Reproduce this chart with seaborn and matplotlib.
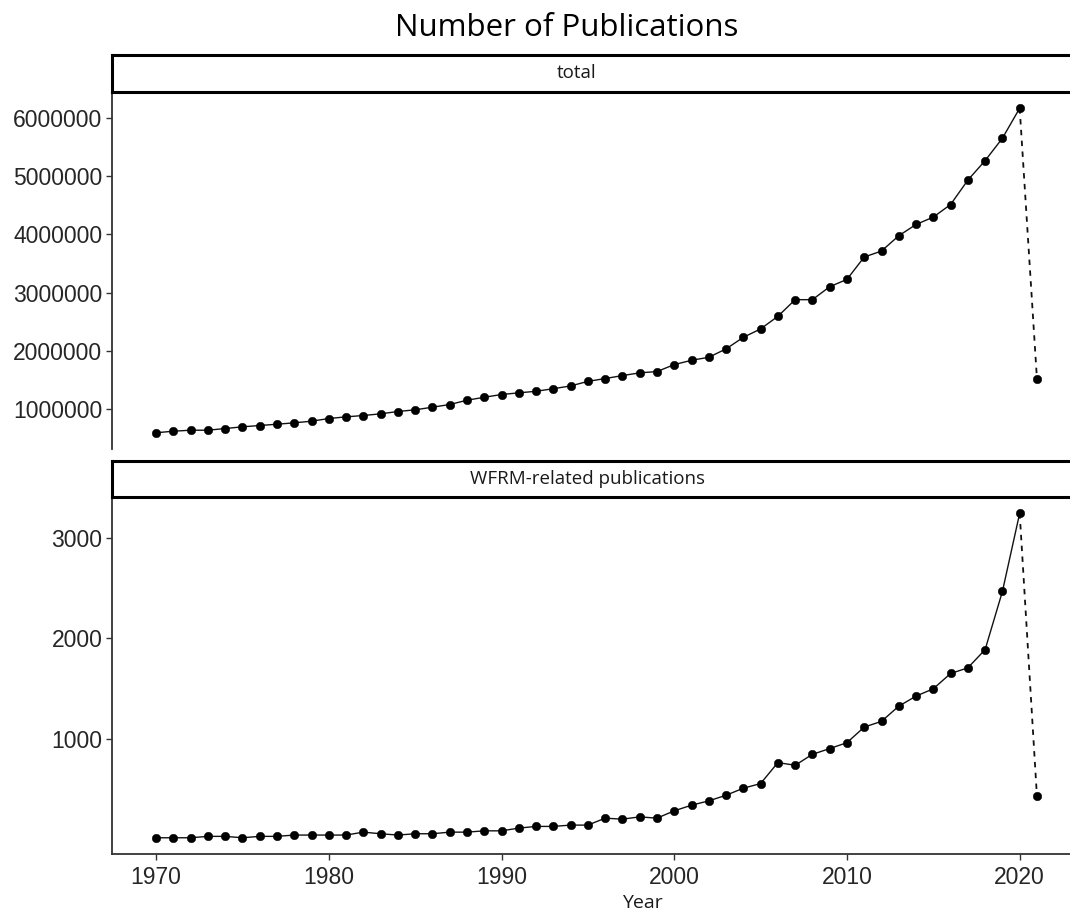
"""
Number of publications per year: total vs WFRM-related (two stacked facets).
"""
import numpy as np
import pandas as pd
import matplotlib
matplotlib.use("Agg")
import matplotlib.pyplot as plt
import matplotlib.ticker as mticker
import seaborn as sns

# --- data ---
years = list(range(1970, 2022))
total = [588000, 615000, 632000, 632000, 661000, 690000, 713000, 735000, 759000, 787000,
         833000, 862000, 885000, 914000, 954000, 983000, 1028000, 1074000, 1148000, 1199000,
         1246000, 1275000, 1302000, 1346000, 1394000, 1472000, 1521000, 1572000, 1619000, 1641000,
         1761000, 1835000, 1887000, 2031000, 2230000, 2375000, 2591000, 2878000, 2878000, 3101000,
         3227000, 3612000, 3715000, 3978000, 4172000, 4299000, 4515000, 4935000, 5271000, 5656000,
         6172000, 1515000]
wfrm = [14, 14, 14, 28, 28, 14, 28, 28, 41, 41,
        41, 41, 70, 54, 41, 54, 54, 70, 70, 83,
        83, 110, 127, 127, 140, 140, 209, 199, 222, 209,
        282, 338, 381, 437, 507, 553, 762, 735, 844, 901,
        960, 1115, 1172, 1323, 1423, 1496, 1648, 1704, 1886, 2464,
        3242, 425]
panel_names = ["total", "WFRM-related publications"]
y_ticks = [[1000000, 2000000, 3000000, 4000000, 5000000, 6000000], [1000, 2000, 3000]]
x_ticks = [1970, 1980, 1990, 2000, 2010, 2020]

sns.set_theme(style="white")
plt.rcParams["font.family"] = ["Liberation Sans", "DejaVu Sans"]

W, H = 1070, 910
fig = plt.figure(figsize=(W / 100, H / 100), dpi=100)

left = 112 / W
width = (1081 - 112) / W
# (plot top px, plot bottom px, strip top px, strip label centre px)
panels = [(92, 449, 55, 577), (497, 854, 461, 588)]
series = [total, wfrm]
tick_col = "#262626"

for i, ((top_px, bot_px, strip_px, lab_px), vals) in enumerate(zip(panels, series)):
    ax = fig.add_axes([left, 1 - bot_px / H, width, (bot_px - top_px) / H])
    df = pd.DataFrame({"year": years, "value": vals})
    solid = df[df["year"] <= 2020]
    dashed = df[df["year"] >= 2020]
    sns.lineplot(data=solid, x="year", y="value", ax=ax, color="#111111", lw=1.0)
    sns.lineplot(data=dashed, x="year", y="value", ax=ax, color="#111111", lw=1.3,
                 linestyle=(0, (3, 3)))
    sns.scatterplot(data=df, x="year", y="value", ax=ax, color="black", s=38,
                    edgecolor="black", linewidth=0.3, zorder=3)

    # ggplot-style 5% expansion
    lo, hi = min(vals), max(vals)
    pad = 0.05 * (hi - lo)
    ax.set_ylim(lo - pad, hi + pad)
    ax.set_xlim(1970 - 0.05 * 51, 2021 + 0.05 * 51)
    ax.set_yticks(y_ticks[i])
    ax.yaxis.set_major_formatter(mticker.FuncFormatter(lambda v, p: f"{int(v)}"))
    ax.set_xticks(x_ticks)
    ax.set_xlabel("")
    ax.set_ylabel("")
    for s in ["top", "right"]:
        ax.spines[s].set_visible(False)
    ax.spines["left"].set_color("#333333")
    ax.spines["left"].set_linewidth(1.3)
    ax.spines["bottom"].set_color("#333333")
    ax.spines["bottom"].set_linewidth(1.3)
    ax.tick_params(axis="both", length=4, width=1, color="#333333",
                   labelsize=16.5, labelcolor=tick_col)
    ax.tick_params(axis="y", pad=3, left=True)
    ax.tick_params(axis="x", pad=5)
    if i == 0:
        ax.spines["bottom"].set_visible(False)
        ax.tick_params(axis="x", bottom=False, labelbottom=False)
    else:
        ax.tick_params(axis="x", bottom=True)

    # facet strip
    sax = fig.add_axes([left, 1 - top_px / H, width, (top_px - strip_px) / H])
    sax.set_xticks([])
    sax.set_yticks([])
    sax.set_facecolor("white")
    for s in sax.spines.values():
        s.set_color("black")
        s.set_linewidth(2.2)
    sax.text((lab_px - 112) / (1081 - 112), 0.5, panel_names[i], ha="center", va="center",
             fontsize=13.5, family=["Open Sans", "DejaVu Sans"], color="#1a1a1a",
             transform=sax.transAxes)

fig.text(567 / W, 1 - 36 / H, "Number of Publications", ha="center", va="baseline",
         fontsize=22.5, family=["Open Sans", "DejaVu Sans"], color="black")
fig.text(642 / W, 1 - 908 / H, "Year", ha="center", va="baseline",
         fontsize=14, family=["Open Sans", "DejaVu Sans"], color="#1a1a1a")

fig.savefig("out.png", dpi=100)
